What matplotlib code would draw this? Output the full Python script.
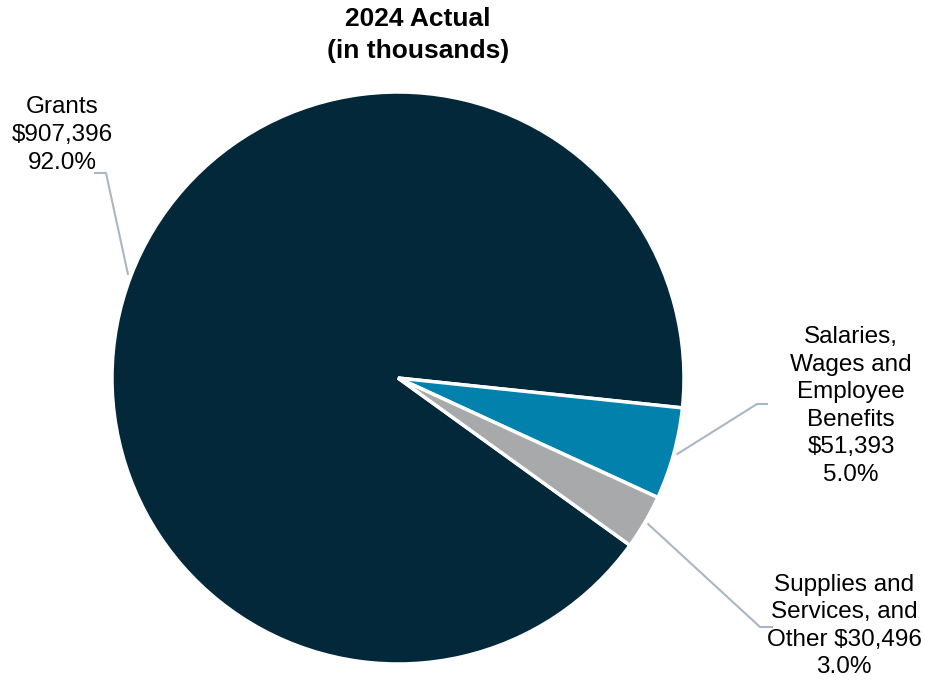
import numpy as np
import matplotlib
matplotlib.use("Agg")
import matplotlib.pyplot as plt

plt.rcParams['font.family'] = ['Liberation Sans', 'DejaVu Sans']

# Expense categories (thousands of dollars)
categories = ["Grants",
              "Salaries,\nWages and\nEmployee\nBenefits",
              "Supplies and\nServices, and\nOther"]
values = [907396, 51393, 30496]
pct_labels = [92.0, 5.0, 3.0]
colors = ["#022839", "#0181AB", "#A7A9AB"]
title = "2024 Actual\n(in thousands)"

W, H = 925, 680
fig = plt.figure(figsize=(W / 100, H / 100), dpi=100)
ax = fig.add_axes([0, 0, 1, 1])

cx, cy, r = 398, H - 378, 286
wedges, _ = ax.pie(values, colors=colors, startangle=-35.8, counterclock=False,
                   center=(cx, cy), radius=r, frame=True,
                   wedgeprops=dict(edgecolor="white", linewidth=2.5))
ax.set_xlim(0, W)
ax.set_ylim(0, H)
ax.set_aspect("equal")
ax.axis("off")

# leader elbow, leader end, text anchor for each label
layout = [
    dict(elbow=(106, H - 173), end=(94, H - 173), text=(62, H - 135)),
    dict(elbow=(757, H - 404), end=(768, H - 404), text=(851, H - 406)),
    dict(elbow=(760, H - 627), end=(773, H - 627), text=(844, H - 626)),
]

for i, (w, name, val, pct) in enumerate(zip(wedges, categories, values, pct_labels)):
    mid = np.deg2rad((w.theta1 + w.theta2) / 2)
    sx = cx + r * 1.01 * np.cos(mid)
    sy = cy + r * 1.01 * np.sin(mid)
    lay = layout[i]
    ax.plot([sx, lay["elbow"][0], lay["end"][0]],
            [sy, lay["elbow"][1], lay["end"][1]],
            color="#A9B7C4", lw=1.5, solid_capstyle="butt", zorder=0)
    if i == 2:
        txt = f"{name} ${val:,}\n{pct:.1f}%"
    else:
        txt = f"{name}\n${val:,}\n{pct:.1f}%"
    ax.text(lay["text"][0], lay["text"][1], txt, ha="center", va="center",
            fontsize=17.5, linespacing=1.33, color="black")

ax.text(418, H - 35, title, ha="center", va="center", fontsize=19,
        fontweight="bold", linespacing=1.38)

fig.savefig("out.png", dpi=100)
